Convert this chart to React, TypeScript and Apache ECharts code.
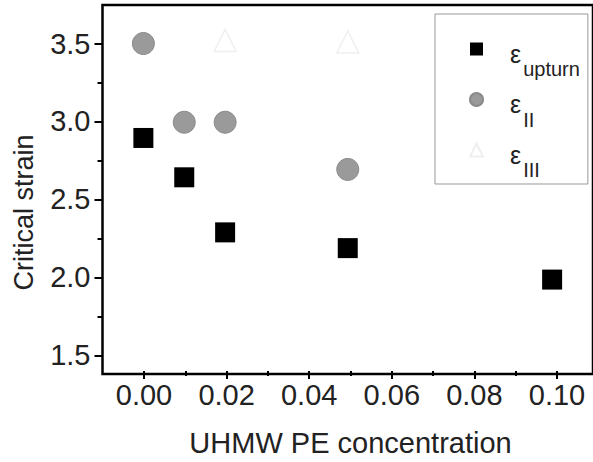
import React, { useEffect, useRef } from "react";
import * as echarts from "echarts";

// ---- data ----
const concUpturn = [0, 0.01, 0.02, 0.05, 0.1];
const strainUpturn = [2.9, 2.65, 2.3, 2.2, 2.0];

const concII = [0, 0.01, 0.02, 0.05];
const strainII = [3.5, 3.0, 3.0, 2.7];

const concIII = [0.02, 0.05];
const strainIII = [3.52, 3.51];

const seriesNames = ["ε_upturn", "ε_II", "ε_III"];
const legendSub: Record<string, string> = {
  "ε_upturn": "upturn",
  "ε_II": "II",
  "ε_III": "III",
};

const xTitle = "UHMW PE concentration";
const yTitle = "Critical strain";

const FONT = '"Liberation Sans", Arial, sans-serif';

export default function App() {
  const ref = useRef<HTMLDivElement>(null);

  useEffect(() => {
    if (!ref.current) return;
    const chart = echarts.init(ref.current, undefined, { renderer: "svg" });

    const tickLine = { color: "#000", width: 2 };

    chart.setOption({
      animation: false,
      backgroundColor: "#fff",
      grid: [
        {
          // frame + data area
          left: 102.5,
          top: 5,
          right: -5.1,
          bottom: 88,
          show: true,
          borderColor: "#000",
          borderWidth: 2.5,
          backgroundColor: "transparent",
        },
        {
          // tick / label area spanning the labelled range
          left: 144,
          right: 36,
          top: 43.5,
          bottom: 103.7,
        },
      ],
      xAxis: [
        {
          gridIndex: 0,
          type: "value",
          min: -0.01,
          max: 0.11,
          show: false,
        },
        {
          gridIndex: 1,
          type: "value",
          min: 0,
          max: 0.1,
          interval: 0.02,
          position: "bottom",
          offset: 15.7,
          axisLine: { show: false, onZero: false },
          axisTick: { show: true, length: 8, lineStyle: tickLine },
          minorTick: { show: true, splitNumber: 2, length: 5, lineStyle: tickLine },
          splitLine: { show: false },
          minorSplitLine: { show: false },
          axisLabel: {
            fontSize: 29,
            fontFamily: FONT,
            color: "#222",
            margin: 9,
            formatter: (v: number) => v.toFixed(2),
          },
          name: xTitle,
          nameLocation: "middle",
          nameGap: 57,
          nameTextStyle: { fontSize: 29, fontFamily: FONT, color: "#222" },
        },
      ],
      yAxis: [
        {
          gridIndex: 0,
          type: "value",
          min: 1.4,
          max: 3.745,
          show: false,
        },
        {
          gridIndex: 1,
          type: "value",
          min: 1.5,
          max: 3.5,
          interval: 0.5,
          position: "left",
          offset: 41.5,
          axisLine: { show: false, onZero: false },
          axisTick: { show: true, length: 8, lineStyle: tickLine },
          minorTick: { show: true, splitNumber: 2, length: 5, lineStyle: tickLine },
          splitLine: { show: false },
          minorSplitLine: { show: false },
          axisLabel: {
            fontSize: 29,
            fontFamily: FONT,
            color: "#222",
            margin: 12,
            formatter: (v: number) => v.toFixed(1),
          },
        },
      ],
      graphic: [
        {
          type: "text",
          x: 24,
          y: 212.5,
          rotation: Math.PI / 2,
          style: {
            text: yTitle,
            fontSize: 27,
            fontFamily: FONT,
            fill: "#222",
            align: "center",
            verticalAlign: "middle",
          },
        },
      ],
      legend: {
        orient: "vertical",
        left: 435,
        top: 14,
        padding: [27, 8, 4, 34],
        itemGap: 12.5,
        itemWidth: 13,
        itemHeight: 13,
        borderColor: "#999",
        borderWidth: 1,
        data: seriesNames,
        formatter: (name: string) => `{e|ε}{s|${legendSub[name]}}`,
        textStyle: {
          fontFamily: FONT,
          color: "#222",
          rich: {
            e: { fontSize: 25, fontFamily: FONT, color: "#222", padding: [22, 2, 0, 22], verticalAlign: "top" },
            s: { fontSize: 20, fontFamily: FONT, color: "#222", padding: [40, 0, 0, 0], verticalAlign: "top" },
          },
        },
      },
      series: [
        {
          name: seriesNames[0],
          type: "scatter",
          xAxisIndex: 0,
          yAxisIndex: 0,
          symbol: "rect",
          symbolSize: 20,
          itemStyle: { color: "#000", opacity: 1 },
          data: concUpturn.map((x, i) => [x, strainUpturn[i]]),
          clip: false,
        },
        {
          name: seriesNames[1],
          type: "scatter",
          xAxisIndex: 0,
          yAxisIndex: 0,
          symbol: "circle",
          symbolSize: 22,
          itemStyle: { color: "#9a9a9a", borderColor: "#8a8a8a", borderWidth: 1, opacity: 1 },
          data: concII.map((x, i) => [x, strainII[i]]),
          clip: false,
        },
        {
          name: seriesNames[2],
          type: "scatter",
          xAxisIndex: 0,
          yAxisIndex: 0,
          symbol: "triangle",
          symbolSize: 22,
          itemStyle: { color: "transparent", borderColor: "#efefef", borderWidth: 1.5, opacity: 1 },
          data: concIII.map((x, i) => [x, strainIII[i]]),
          clip: false,
        },
      ],
    });

    return () => chart.dispose();
  }, []);

  return (
    <div
      ref={ref}
      style={{ position: "absolute", left: 0, top: 0, width: 593, height: 462, background: "#fff" }}
    />
  );
}
